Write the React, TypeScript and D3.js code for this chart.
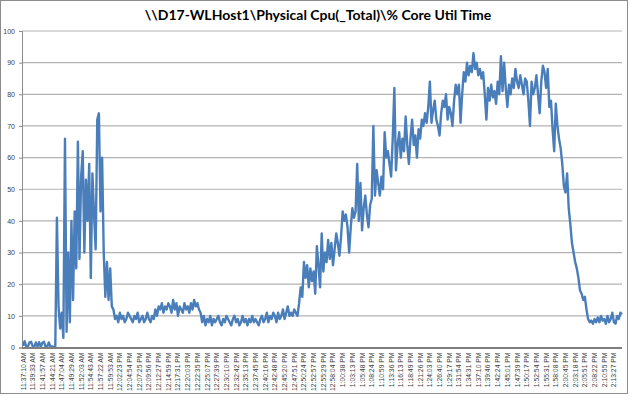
import { useEffect, useRef } from "react";
import * as d3 from "d3";

// Chart text
const chartTitle = "\\\\D17-WLHost1\\Physical Cpu(_Total)\\% Core Util Time";

// One label every 6 samples along the category axis
const timeLabels = [
  "11:37:10 AM", "11:39:33 AM", "11:41:57 AM", "11:44:21 AM", "11:47:04 AM", "11:49:29 AM",
  "11:52:03 AM", "11:54:43 AM", "11:57:22 AM", "11:59:53 AM", "12:02:23 PM", "12:04:54 PM",
  "12:07:25 PM", "12:09:56 PM", "12:12:27 PM", "12:14:59 PM", "12:17:31 PM", "12:20:03 PM",
  "12:22:35 PM", "12:25:07 PM", "12:27:39 PM", "12:30:10 PM", "12:32:42 PM", "12:35:13 PM",
  "12:37:45 PM", "12:40:16 PM", "12:42:48 PM", "12:45:20 PM", "12:47:51 PM", "12:50:24 PM",
  "12:52:57 PM", "12:55:29 PM", "12:58:04 PM", "1:00:38 PM", "1:03:13 PM", "1:05:48 PM",
  "1:08:24 PM", "1:10:59 PM", "1:13:36 PM", "1:16:13 PM", "1:18:49 PM", "1:21:26 PM",
  "1:24:03 PM", "1:26:40 PM", "1:29:17 PM", "1:31:54 PM", "1:34:31 PM", "1:37:10 PM",
  "1:39:46 PM", "1:42:24 PM", "1:45:01 PM", "1:47:39 PM", "1:50:17 PM", "1:52:54 PM",
  "1:55:31 PM", "1:58:08 PM", "2:00:45 PM", "2:03:18 PM", "2:05:51 PM", "2:08:22 PM",
  "2:10:55 PM", "2:13:27 PM",
];
const samplesPerLabel = 6;

const yTicks = [0, 10, 20, 30, 40, 50, 60, 70, 80, 90, 100];

// % Core Util Time samples
const coreUtil = [
  0.5, 2, 0.3, 0.2, 1.6, 1.8, 0.4, 0.2, 1.6, 0.3,
  1.7, 0.2, 1.5, 1.8, 0.2, 0.3, 1.6, 0.2, 0.3, 0.2,
  0.3, 41, 13, 6, 11, 3, 66, 5, 30, 8,
  40, 15, 43, 25, 65, 28, 54, 62, 30, 53,
  40, 58, 22, 55, 42, 31, 72, 74, 43, 60,
  30, 16, 27, 15, 25, 13, 12, 9, 10, 8,
  11, 9, 10, 8, 9, 11, 10, 9, 8, 10,
  9, 11, 8, 9, 10, 8, 9, 11, 9, 8,
  10, 9, 12, 10, 13, 12, 14, 11, 13, 12,
  14, 13, 11, 15, 12, 14, 10, 13, 12, 11,
  14, 12, 13, 11, 14, 12, 15, 13, 14, 12,
  11, 8, 10, 7, 9, 8, 10, 7, 9, 8,
  9, 10, 8, 7, 9, 8, 10, 9, 8, 7,
  9, 10, 8, 9, 7, 8, 10, 8, 9, 7,
  9, 8, 10, 8, 9, 8, 7, 9, 10, 8,
  9, 11, 8, 10, 9, 11, 10, 8, 11, 9,
  10, 12, 9, 11, 13, 10, 11, 10, 12, 11,
  10, 14, 19, 16, 27, 22, 26, 19, 25, 21,
  24, 17, 32, 26, 19, 36, 24, 30, 27, 34,
  28, 33, 26, 31, 36, 33, 29, 35, 43, 40,
  42, 38, 30, 38, 44, 41, 43, 58, 40, 52,
  37, 44, 48, 42, 38, 45, 47, 70, 48, 56,
  52, 48, 54, 50, 68, 60, 62, 58, 54, 66,
  82, 56, 64, 68, 60, 66, 62, 73, 64, 58,
  66, 72, 64, 67, 60, 69, 66, 72, 70, 74,
  71, 76, 84, 71, 75, 78, 72, 70, 67, 74,
  78, 76, 80, 72, 76, 74, 70, 78, 83, 80,
  83, 71, 80, 87, 84, 90, 86, 89, 87, 93,
  88, 90, 86, 88, 85, 87, 80, 72, 82, 78,
  83, 79, 81, 77, 84, 80, 92, 81, 90, 82,
  76, 83, 80, 85, 82, 88, 84, 82, 86, 83,
  80, 85, 84, 78, 70, 84, 80, 82, 86, 80,
  74, 84, 89, 87, 82, 88, 76, 78, 69, 62,
  77, 70, 66, 63, 58, 51, 49, 55, 44, 39,
  33, 30, 27, 25, 22, 18, 17, 15, 16, 12,
  9, 8, 8.5, 7.5, 9, 8, 9.5, 8, 10, 8.5,
  9, 7.5, 10, 8, 9, 11, 8, 7.5, 10, 9,
  11, 10.5,
];

export default function App() {
  const ref = useRef<SVGSVGElement>(null);

  useEffect(() => {
    if (!ref.current) return;
    const svg = d3.select(ref.current);
    svg.selectAll("*").remove();

    const width = 630;
    const height = 396;
    const left = 23;
    const right = 622;
    const top = 31;
    const bottom = 347.5;

    const x = d3.scaleLinear().domain([0, coreUtil.length - 1]).range([left, right]);
    const y = d3.scaleLinear().domain([0, 100]).range([bottom, top]);

    // chart area border
    svg.append("rect")
      .attr("x", 0.5).attr("y", 0.5)
      .attr("width", width - 3).attr("height", height - 3)
      .attr("fill", "#fff")
      .attr("stroke", "#8c8c8c")
      .attr("stroke-width", 1);

    // title
    svg.append("text")
      .attr("x", 318).attr("y", 20)
      .attr("text-anchor", "middle")
      .style("font-family", "Lato, 'Open Sans', sans-serif")
      .style("font-weight", "bold")
      .style("font-size", "14px")
      .attr("fill", "#000")
      .text(chartTitle);

    // horizontal gridlines
    svg.append("g")
      .selectAll("line")
      .data(yTicks.filter(t => t > 0))
      .enter().append("line")
      .attr("x1", left - 1).attr("x2", right)
      .attr("y1", d => y(d)).attr("y2", d => y(d))
      .attr("stroke", "#b3b3b3")
      .attr("stroke-width", 1.2);

    // y axis
    const yAxis = d3.axisLeft(y).tickValues(yTicks).tickSize(3).tickPadding(4);
    const yg = svg.append("g")
      .attr("transform", `translate(${left - 1},0)`)
      .call(yAxis);
    yg.select(".domain").attr("stroke", "#8c8c8c");
    yg.selectAll(".tick line").attr("stroke", "#8c8c8c");
    yg.selectAll("text")
      .style("font-family", "'Liberation Sans', Arial, sans-serif")
      .style("font-size", "7px")
      .attr("fill", "#404040");

    // x axis labels
    const labelIdx = timeLabels.map((_, i) => i * samplesPerLabel);
    svg.append("g")
      .selectAll("text")
      .data(labelIdx)
      .enter().append("text")
      .attr("transform", d => `translate(${x(d) + 2.5},${bottom + 5}) rotate(-90)`)
      .attr("text-anchor", "end")
      .style("font-family", "'Liberation Sans', Arial, sans-serif")
      .style("font-size", "6.8px")
      .attr("fill", "#404040")
      .text((_, i) => timeLabels[i]);

    // the series
    const line = d3.line<number>()
      .x((_, i) => x(i))
      .y(d => y(d));
    svg.append("path")
      .datum(coreUtil)
      .attr("d", line)
      .attr("fill", "none")
      .attr("stroke", "#4a7ebb")
      .attr("stroke-width", 2.4)
      .attr("stroke-linejoin", "round");

    // x axis line drawn on top
    svg.append("line")
      .attr("x1", left - 1).attr("x2", right)
      .attr("y1", bottom + 0.5).attr("y2", bottom + 0.5)
      .attr("stroke", "#7f7f7f")
      .attr("stroke-width", 2);
  }, []);

  return (
    <svg
      ref={ref}
      width={630}
      height={396}
      style={{ position: "absolute", left: 0, top: 0 }}
    />
  );
}
